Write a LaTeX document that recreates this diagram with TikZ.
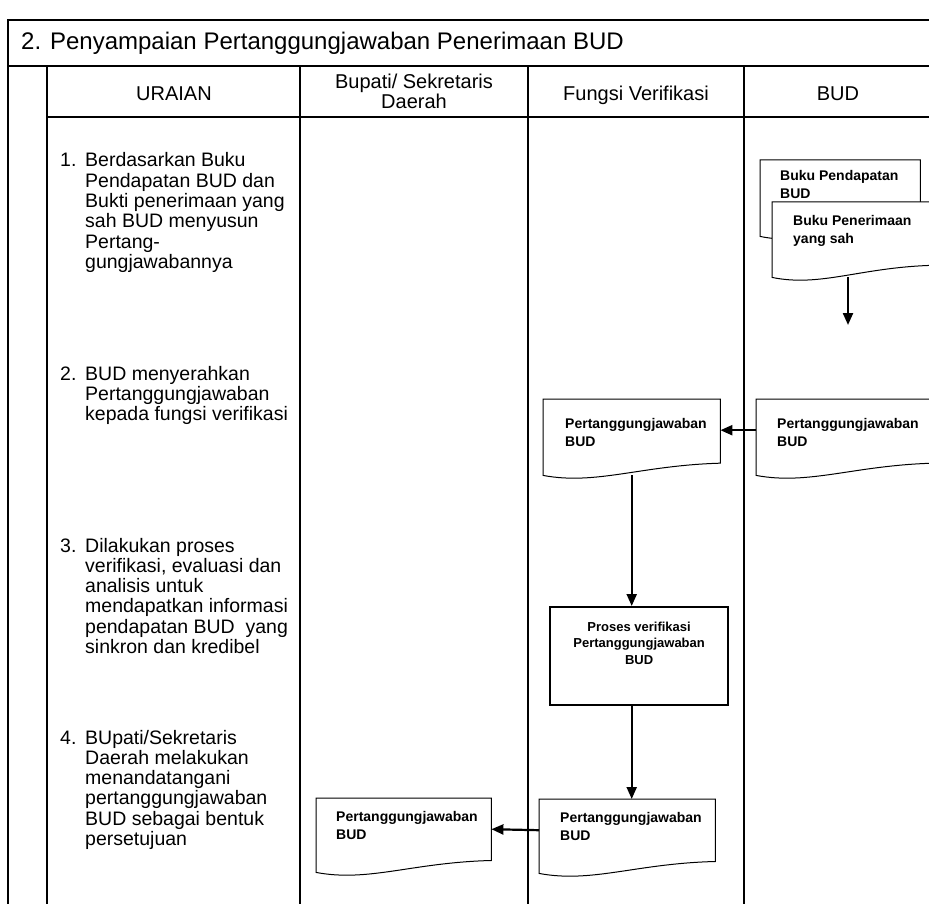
\documentclass[tikz,border=0pt]{standalone}
\usepackage{fontspec}
\setmainfont{Liberation Sans}
\usetikzlibrary{arrows.meta,calc,backgrounds}

% text block of a document symbol: width, height, left pad, first baseline, text
\newcommand\docbody[5]{\parbox[c][#2pt][t]{#1pt}{\raggedright\leftskip=#3pt\rule{0pt}{#4pt}#5}}
% outline of a document symbol with a wavy lower edge
\newcommand\docshape[1]{%
  \draw[docline] (#1.north west) -- (#1.north east)
    -- ($(#1.north east)!0.84!(#1.south east)$)
    .. controls ($(#1.south west)!0.55!(#1.south east)+(0,-10)$)
    and ($(#1.south west)!0.3!(#1.south east)+(0,10)$) .. (#1.south west) -- cycle;}

\tikzset{
  frame/.style={line width=2.4pt},
  docline/.style={line width=1pt, fill=white},
  docnode/.style={inner sep=0pt, anchor=north west, font=\fontsize{14}{18}\selectfont\bfseries},
  procbox/.style={draw, line width=2.2pt, inner sep=0pt, anchor=north west,
    font=\fontsize{13}{16.5}\selectfont\bfseries},
  arr/.style={line width=2.2pt, -{Triangle[length=12pt,width=10pt]}},
  body/.style={inner sep=0pt, anchor=base west, font=\fontsize{19.5}{20.3}\selectfont},
  head/.style={inner sep=0pt, align=center, font=\fontsize{20}{20}\selectfont},
}

\begin{document}
\begin{tikzpicture}[x=1pt,y=-1pt]
\begin{pgfonlayer}{background}
  \fill[white] (0,0) rectangle (929,904);
\end{pgfonlayer}
\useasboundingbox (0,0) rectangle (929,904);

% table frame
\draw[frame] (8,904) -- (8,20) -- (929,20);
\draw[frame] (8,66) -- (929,66);
\draw[frame] (47,66) -- (47,904);
\draw[frame] (47,117) -- (929,117);
\draw[frame] (300,66) -- (300,904);
\draw[frame] (528,66) -- (528,904);
\draw[frame] (744,66) -- (744,904);

% title and column heads
\node[anchor=base west, inner sep=0pt, font=\fontsize{24}{28}\selectfont] (title) at (21,50)
  {2. Penyampaian Pertanggungjawaban Penerimaan BUD};
\node[head, anchor=base] (hUr) at (174,101) {URAIAN};
\node[head] (hBup) at (414,91) {Bupati/ Sekretaris\\Daerah};
\node[head, anchor=base] (hFv) at (636,101) {Fungsi Verifikasi};
\node[head, anchor=base] (hBud) at (838,101) {BUD};

% steps
\node[body] (u1) at (60,167) {\begin{tabular}[t]{@{}p{25pt}@{}l@{}}
  1. & Berdasarkan Buku\\ & Pendapatan BUD dan\\ & Bukti penerimaan yang\\
     & sah BUD menyusun\\ & Pertang-\\ & gungjawabannya\end{tabular}};
\node[body] (u2) at (60,380) {\begin{tabular}[t]{@{}p{25pt}@{}l@{}}
  2. & BUD menyerahkan\\ & Pertanggungjawaban\\ & kepada fungsi verifikasi\end{tabular}};
\node[body] (u3) at (60,552) {\begin{tabular}[t]{@{}p{25pt}@{}l@{}}
  3. & Dilakukan proses\\ & verifikasi, evaluasi dan\\ & analisis untuk\\
     & mendapatkan informasi\\ & pendapatan BUD~ yang\\ & sinkron dan kredibel\end{tabular}};
\node[body] (u4) at (60,744) {\begin{tabular}[t]{@{}p{25pt}@{}l@{}}
  4. & BUpati/Sekretaris\\ & Daerah melakukan\\ & menandatangani\\
     & pertanggungjawaban\\ & BUD sebagai bentuk\\ & persetujuan\end{tabular}};

% documents
\node[docnode] (bk1) at (760,160) {\docbody{160}{76}{20}{20}{Buku Pendapatan\\BUD}};
\node[docnode] (bk2) at (772,202) {\docbody{160}{75}{21}{23}{Buku Penerimaan\\yang sah}};
\node[docnode] (bp) at (756,399) {\docbody{177}{76}{21}{29}{Pertanggungjawaban\\BUD}};
\node[docnode] (fp) at (543,399) {\docbody{177}{76}{22}{29}{Pertanggungjawaban\\BUD}};
\node[procbox] (proc) at (549,606)
  {\parbox[c][98pt][t]{178pt}{\centering\rule{0pt}{24pt}Proses verifikasi\\Pertanggungjawaban\\BUD}};
\node[docnode] (fb) at (539,799) {\docbody{176}{74}{21}{23}{Pertanggungjawaban\\BUD}};
\node[docnode] (bb) at (316,798) {\docbody{175}{74}{20}{23}{Pertanggungjawaban\\BUD}};

\begin{pgfonlayer}{background}
  \docshape{bk1}
  \docshape{bk2}
  \docshape{bp}
  \docshape{fp}
  \docshape{fb}
  \docshape{bb}
\end{pgfonlayer}

% flow
\coordinate (bkend) at (848,325);
\draw[arr] (bk2.south -| bkend) -- (bkend);
\draw[arr] ([yshift=7pt]bp.west) -- ([yshift=7pt]fp.east);
\draw[arr] (fp.south) -- (fp.south |- proc.north);
\draw[arr] (proc.south -| fp.south) -- (fb.north -| fp.south);
\draw[arr] ([yshift=6pt]fb.west) -- ([yshift=6pt]bb.east);
\end{tikzpicture}
\end{document}
